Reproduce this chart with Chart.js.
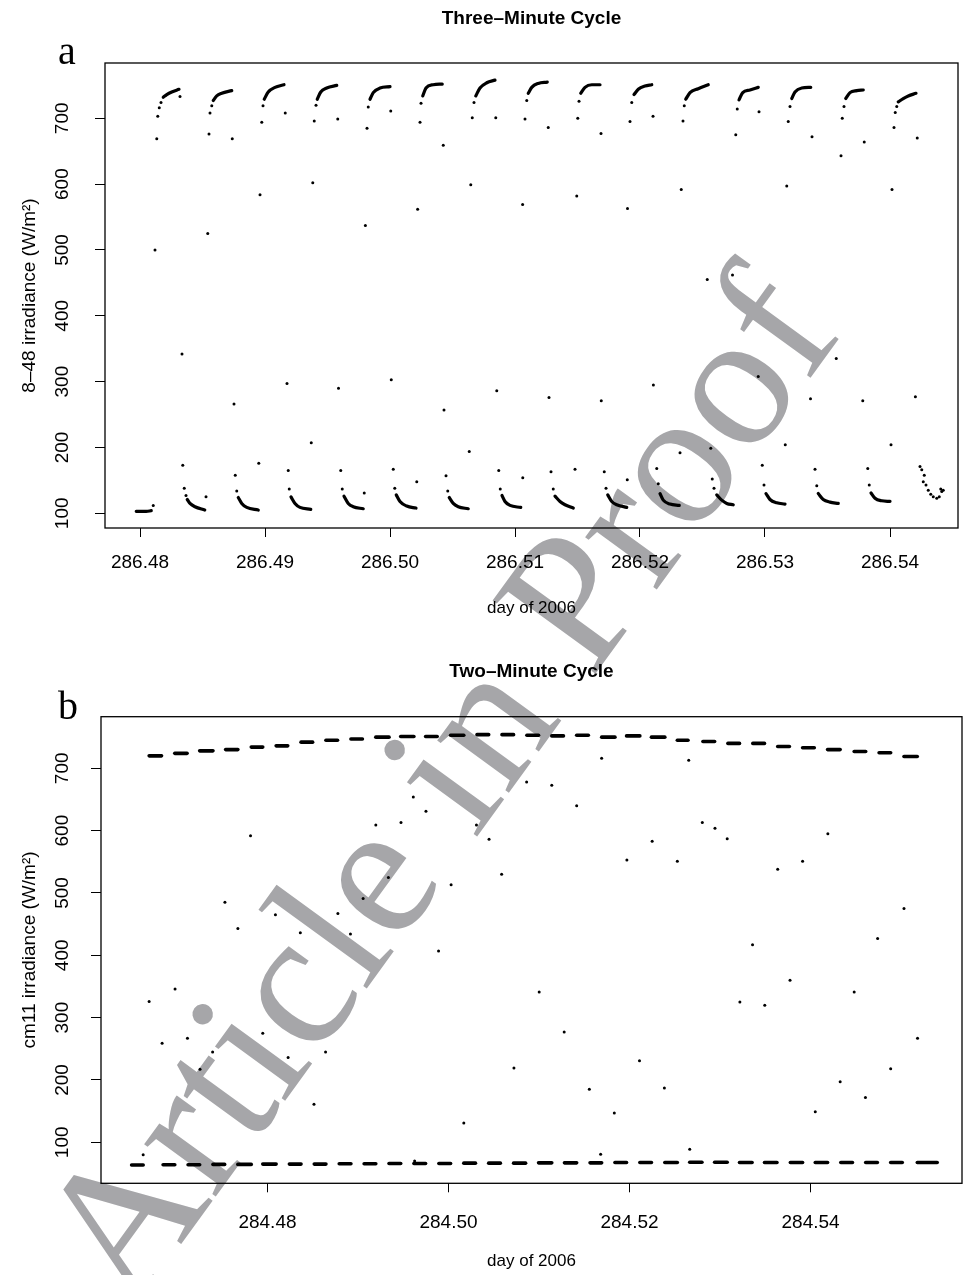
<!DOCTYPE html>
<html>
<head>
<meta charset="utf-8">
<script src="https://cdn.jsdelivr.net/npm/chart.js@4.4.0/dist/chart.umd.min.js"></script>
<style>
  body { margin: 0; background: #fff; }
  #page { position: relative; width: 966px; height: 1275px; overflow: hidden; background: #fff; }
  .chart { position: absolute; left: 0; }
  #stamp {
    position: absolute; left: 132px; top: 1150.5px;
    font-family: "Liberation Serif", serif; font-size: 193px; line-height: 1;
    color: rgb(166, 166, 169); white-space: nowrap;
    transform-origin: 0 161.6px; transform: rotate(-54deg);
  }
  .panel { position: absolute; font-family: "Liberation Serif", serif; font-size: 40px; line-height: 1; color: #000; }
</style>
</head>
<body>
<div id="page">
  <div id="stamp">Article in Proof</div>
  <canvas id="threeMin" class="chart" width="966" height="640" style="top:0"></canvas>
  <canvas id="twoMin" class="chart" width="966" height="635" style="top:640px"></canvas>
  <div class="panel" style="left:58px;top:31px">a</div>
  <div class="panel" style="left:58px;top:686px">b</div>
</div>
<script>
const irradianceTicks = [100, 200, 300, 400, 500, 600, 700];
const threeMinDayTicks = [286.48, 286.49, 286.5, 286.51, 286.52, 286.53, 286.54];
const twoMinDayTicks = [284.48, 284.5, 284.52, 284.54];

// panel a: dense stretches of the record (one list per stretch)
const threeMinHighArcs = [
  [[286.48186, 732], [286.48214, 736], [286.48254, 740], [286.48312, 744]],
  [[286.48586, 727], [286.48614, 734], [286.48654, 738], [286.48734, 742]],
  [[286.48994, 729], [286.49026, 740], [286.4908, 747], [286.49152, 751]],
  [[286.49418, 729], [286.49446, 740], [286.49494, 746], [286.49574, 750]],
  [[286.4984, 729], [286.49866, 739], [286.4992, 746], [286.5, 748]],
  [[286.50262, 734], [286.50288, 746], [286.50346, 751], [286.50418, 752]],
  [[286.50686, 734], [286.5072, 746], [286.50774, 754], [286.5084, 758]],
  [[286.51106, 738], [286.51134, 747], [286.51186, 753], [286.51258, 755]],
  [[286.51526, 738], [286.5156, 747], [286.51614, 751], [286.5168, 751]],
  [[286.51952, 736], [286.51986, 744], [286.5204, 749], [286.52094, 751]],
  [[286.52366, 729], [286.524, 739], [286.52466, 745], [286.52546, 751]],
  [[286.52792, 728], [286.52822, 739], [286.5288, 743], [286.52946, 747]],
  [[286.53214, 730], [286.5324, 740], [286.53294, 746], [286.53366, 747]],
  [[286.53646, 730], [286.5368, 739], [286.53734, 742], [286.53786, 743]],
  [[286.54066, 725], [286.54106, 730], [286.54146, 734], [286.54208, 738]]
];

const threeMinLowArcs = [
  [[286.4797, 103], [286.4805, 103], [286.4809, 104]],
  [[286.48378, 121], [286.484, 115], [286.4844, 110], [286.48518, 105]],
  [[286.48786, 124], [286.48814, 115], [286.48854, 109], [286.48946, 105]],
  [[286.49208, 125], [286.4924, 115], [286.4928, 109], [286.49366, 106]],
  [[286.49632, 126], [286.49666, 115], [286.49706, 110], [286.49786, 107]],
  [[286.5005, 128], [286.5008, 118], [286.50134, 111], [286.50208, 108]],
  [[286.50474, 124], [286.50506, 115], [286.50546, 110], [286.50626, 107]],
  [[286.50896, 127], [286.5092, 118], [286.5096, 112], [286.51046, 109]],
  [[286.5132, 126], [286.5136, 118], [286.514, 113], [286.51466, 108]],
  [[286.51742, 128], [286.51774, 118], [286.51814, 113], [286.51894, 109]],
  [[286.5216, 130], [286.52186, 120], [286.5224, 114], [286.52314, 112]],
  [[286.52614, 128], [286.52654, 120], [286.52694, 115], [286.52746, 113]],
  [[286.53008, 130], [286.5304, 121], [286.53094, 116], [286.5316, 114]],
  [[286.53426, 130], [286.53466, 121], [286.5352, 117], [286.53586, 115]],
  [[286.53848, 131], [286.5388, 123], [286.53934, 119], [286.54, 118]]
];

const threeMinDots = [
  [286.48106, 112], [286.4812, 500], [286.48134, 669], [286.48142, 703], [286.48154, 716], [286.48168, 724],
  [286.4832, 733], [286.48336, 342], [286.48342, 173], [286.48354, 138], [286.48368, 127], [286.48528, 125], [286.48542, 525],
  [286.48552, 676], [286.4856, 708], [286.48574, 719], [286.48738, 669], [286.48752, 266], [286.48762, 158],
  [286.48774, 134], [286.4895, 176], [286.4896, 584],
  [286.48974, 694], [286.48984, 719], [286.49162, 708], [286.49176, 297], [286.49186, 165], [286.49194, 137],
  [286.4937, 207], [286.49382, 602],
  [286.49394, 696], [286.49408, 720], [286.49582, 699], [286.49588, 290], [286.49606, 165], [286.49618, 137],
  [286.49794, 131], [286.49803, 537],
  [286.49816, 685], [286.49826, 717], [286.50006, 711], [286.5001, 303], [286.50026, 167], [286.50038, 138],
  [286.50214, 148], [286.50221, 562],
  [286.5024, 694], [286.50248, 723], [286.50426, 659], [286.50432, 257], [286.50448, 157], [286.50462, 134],
  [286.50634, 194], [286.50646, 599],
  [286.50658, 701], [286.50672, 724], [286.50846, 701], [286.50854, 286], [286.5087, 165], [286.50882, 137],
  [286.51062, 154], [286.51061, 569],
  [286.5108, 699], [286.51094, 727], [286.51266, 686], [286.51272, 276], [286.51288, 163], [286.51306, 137],
  [286.5148, 167], [286.51494, 582],
  [286.51502, 700], [286.51512, 726], [286.51688, 677], [286.5169, 271], [286.51714, 163], [286.51728, 138],
  [286.51898, 151], [286.519, 563],
  [286.5192, 695], [286.51934, 724], [286.52104, 703], [286.52107, 295], [286.52134, 168], [286.52146, 145],
  [286.5232, 192], [286.5233, 592],
  [286.52344, 696], [286.52354, 719], [286.52538, 455], [286.52566, 199], [286.52578, 152], [286.52592, 138],
  [286.5274, 462], [286.52766, 675],
  [286.52778, 714], [286.52952, 710], [286.52946, 308], [286.52978, 173], [286.52992, 143],
  [286.53162, 204], [286.53174, 597],
  [286.53186, 695], [286.532, 718], [286.53376, 672], [286.53364, 274], [286.534, 167], [286.53414, 142],
  [286.5357, 335], [286.53608, 643],
  [286.53618, 700], [286.53632, 718], [286.53794, 664], [286.53782, 271], [286.53822, 168], [286.53834, 143],
  [286.54008, 204], [286.54016, 592],
  [286.54032, 686], [286.54042, 709], [286.54054, 718], [286.54218, 670], [286.54203, 277],
  [286.5424, 171], [286.54254, 166], [286.54274, 158], [286.54266, 148], [286.54288, 143], [286.54306, 135],
  [286.54326, 129], [286.54346, 125], [286.54374, 123], [286.54394, 125], [286.54414, 133], [286.54406, 137],
  [286.54426, 135]
];

// panel b: dashes are [start day, end day, irradiance]
const twoMinUpperDashes = [
  [284.46693, 284.4683, 720], [284.46976, 284.47112, 724], [284.47251, 284.47398, 728], [284.47538, 284.47673, 730],
  [284.47821, 284.47948, 734], [284.48096, 284.48224, 736], [284.48371, 284.48499, 742], [284.48646, 284.48774, 745],
  [284.48922, 284.49049, 747], [284.49197, 284.49343, 750], [284.49472, 284.49618, 751], [284.49747, 284.49875, 751],
  [284.50023, 284.50169, 753], [284.50315, 284.50444, 754], [284.50591, 284.50719, 754], [284.50866, 284.50995, 753],
  [284.51141, 284.5127, 752], [284.51416, 284.51545, 753], [284.51692, 284.51839, 750], [284.51967, 284.52114, 752],
  [284.52242, 284.5239, 750], [284.52528, 284.52646, 745], [284.52811, 284.5294, 743], [284.53087, 284.53215, 740],
  [284.53362, 284.53491, 740], [284.53637, 284.53766, 735], [284.53912, 284.54041, 733], [284.54188, 284.54327, 730],
  [284.54482, 284.54609, 727], [284.54757, 284.54885, 725], [284.55032, 284.55179, 719]
];

const twoMinLowerDashes = [
  [284.46499, 284.46627, 63.5], [284.46847, 284.46976, 64], [284.47123, 284.47251, 64], [284.47398, 284.47527, 64.5],
  [284.47673, 284.47821, 64.5], [284.47948, 284.48096, 65], [284.48242, 284.48371, 65], [284.48517, 284.48646, 65],
  [284.48793, 284.48922, 65.5], [284.49068, 284.49197, 65.5], [284.49343, 284.49472, 66], [284.49618, 284.49747, 66],
  [284.49894, 284.50023, 66], [284.50169, 284.50298, 66.5], [284.50444, 284.50573, 66.5], [284.50719, 284.50852, 66.5],
  [284.50995, 284.51141, 67], [284.51281, 284.51416, 67], [284.51564, 284.51692, 67], [284.51839, 284.51967, 67.5],
  [284.52114, 284.52242, 67.5], [284.5239, 284.52528, 67.5], [284.52665, 284.528, 68], [284.5294, 284.53079, 68],
  [284.53215, 284.53354, 67.5], [284.53491, 284.53629, 67.5], [284.53777, 284.53912, 67.5], [284.54052, 284.54188, 67.5],
  [284.54334, 284.54463, 67.5], [284.54609, 284.54738, 67.5], [284.54885, 284.55013, 67.5], [284.55179, 284.55399, 67.5]
];

const twoMinDots = [
  [284.50863, 678], [284.49611, 654], [284.49751, 631], [284.49197, 609], [284.49475, 613], [284.50309, 609],
  [284.50448, 586], [284.47813, 592], [284.49336, 525], [284.50029, 513], [284.50587, 530], [284.49057, 491],
  [284.4753, 485], [284.48088, 465], [284.48778, 467], [284.47673, 443], [284.48363, 436], [284.48917, 434],
  [284.4989, 407], [284.46979, 346], [284.46693, 326], [284.47948, 275], [284.47116, 267], [284.46836, 259],
  [284.47394, 245], [284.48228, 236], [284.48642, 245], [284.47255, 217], [284.48514, 161], [284.50723, 219],
  [284.51141, 673], [284.51416, 640], [284.52804, 613], [284.52944, 604], [284.53079, 587], [284.54191, 595],
  [284.5225, 583], [284.51971, 553], [284.52528, 551], [284.53637, 538], [284.53912, 551], [284.55032, 475],
  [284.54741, 427], [284.53359, 417], [284.53773, 360], [284.54482, 341], [284.51002, 341], [284.53219, 325],
  [284.53494, 320], [284.51278, 277], [284.55182, 267], [284.5211, 231], [284.54885, 218], [284.51556, 185],
  [284.52385, 187], [284.54327, 197], [284.54606, 172], [284.51692, 716], [284.52654, 713], [284.46627, 80],
  [284.50169, 131], [284.49626, 70], [284.51832, 147], [284.54052, 149], [284.51681, 81], [284.52665, 89]
];

Chart.defaults.font.family = '"Liberation Sans", Arial, sans-serif';
Chart.defaults.color = '#000';

const boxPlugin = {
  id: 'box',
  afterDraw(chart) {
    const { ctx, chartArea: a } = chart;
    ctx.save();
    ctx.strokeStyle = '#000';
    ctx.lineWidth = 1.3;
    ctx.strokeRect(a.left, a.top, a.right - a.left, a.bottom - a.top);
    ctx.restore();
  }
};

function toPoints(list) {
  return list.map(([x, y]) => ({ x, y }));
}

function stretchDataset(points, width) {
  return {
    data: points,
    showLine: true,
    borderColor: '#000',
    borderWidth: width,
    borderCapStyle: 'round',
    borderJoinStyle: 'round',
    cubicInterpolationMode: 'monotone',
    pointRadius: 0
  };
}

function dotDataset(list) {
  return { data: toPoints(list), pointRadius: 1.5, backgroundColor: '#000', borderWidth: 0 };
}

function makeChart(id, s) {
  new Chart(document.getElementById(id), {
    type: 'scatter',
    data: { datasets: s.datasets },
    options: {
      responsive: false,
      animation: false,
      events: [],
      devicePixelRatio: 1,
      layout: { padding: { left: 0, right: s.padRight, top: 0, bottom: 0 } },
      plugins: {
        legend: { display: false },
        tooltip: { enabled: false },
        title: {
          display: true,
          fullSize: false,
          text: s.title,
          color: '#000',
          font: { size: 19, weight: 'bold' },
          padding: { top: s.titleTop, bottom: s.titleBottom }
        }
      },
      scales: {
        x: {
          type: 'linear',
          min: s.xMin,
          max: s.xMax,
          afterBuildTicks: (sc) => { sc.ticks = s.xTicks.map((v) => ({ value: v })); },
          afterFit: (sc) => { sc.height = s.xHeight; },
          border: { display: false },
          grid: { drawOnChartArea: false, tickLength: 9, color: '#000', lineWidth: 1 },
          ticks: {
            color: '#000', font: { size: 19 }, padding: s.xLabelPad,
            maxRotation: 0, autoSkip: false, callback: (v) => v.toFixed(2)
          },
          title: {
            display: true, text: 'day of 2006', color: '#000', font: { size: 17 },
            padding: { top: 0, bottom: s.xTitlePad }
          }
        },
        y: {
          type: 'linear',
          min: s.yMin,
          max: s.yMax,
          afterBuildTicks: (sc) => { sc.ticks = irradianceTicks.map((v) => ({ value: v })); },
          afterFit: (sc) => { sc.width = s.yWidth; },
          border: { display: false },
          grid: { drawOnChartArea: false, tickLength: 10, color: '#000', lineWidth: 1 },
          ticks: {
            color: '#000', font: { size: 19 }, padding: s.yLabelPad,
            minRotation: 90, maxRotation: 90, crossAlign: 'center'
          },
          title: {
            display: true, text: s.yTitle, color: '#000', font: { size: 19 },
            padding: { top: 18, bottom: 0 }
          }
        }
      }
    },
    plugins: [boxPlugin]
  });
}

const threeMinSets = [];
threeMinHighArcs.forEach((arc) => threeMinSets.push(stretchDataset(toPoints(arc), 3.2)));
threeMinLowArcs.forEach((arc) => threeMinSets.push(stretchDataset(toPoints(arc), 3.2)));
threeMinSets.push(dotDataset(threeMinDots));

makeChart('threeMin', {
  datasets: threeMinSets,
  title: 'Three\u2013Minute Cycle',
  titleTop: 7, titleBottom: 33.2,
  padRight: 8,
  xMin: 286.4772, xMax: 286.54544, xTicks: threeMinDayTicks,
  xHeight: 112, xLabelPad: 14, xTitlePad: 21,
  yMin: 77.7, yMax: 784, yWidth: 105, yLabelPad: 16,
  yTitle: '8\u201348 irradiance (W/m\u00b2)'
});

const twoMinSets = [];
twoMinUpperDashes.concat(twoMinLowerDashes).forEach(([x0, x1, y]) => {
  twoMinSets.push(stretchDataset([{ x: x0, y }, { x: x1, y }], 3.6));
});
twoMinSets.push(dotDataset(twoMinDots));

makeChart('twoMin', {
  datasets: twoMinSets,
  title: 'Two\u2013Minute Cycle',
  titleTop: 20.6, titleBottom: 33.3,
  padRight: 1,
  xMin: 284.46161, xMax: 284.55673, xTicks: twoMinDayTicks,
  xHeight: 91.7, xLabelPad: 19, xTitlePad: 3,
  yMin: 34.2, yMax: 782.8, yWidth: 101, yLabelPad: 12,
  yTitle: 'cm11 irradiance (W/m\u00b2)'
});
</script>
</body>
</html>
